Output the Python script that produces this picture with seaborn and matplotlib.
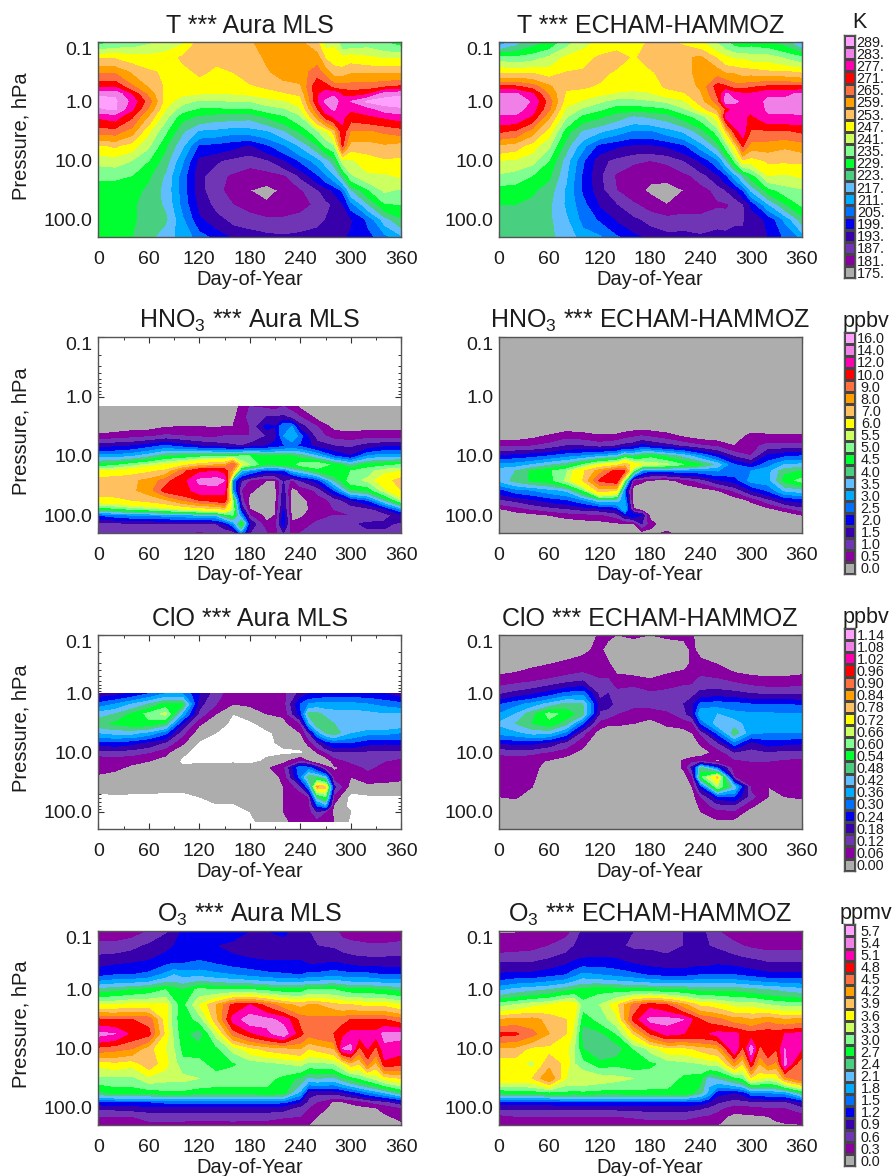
import numpy as np
import matplotlib
matplotlib.use("Agg")
import matplotlib.pyplot as plt
from matplotlib.colors import ListedColormap
from matplotlib.ticker import FixedLocator, LogLocator, MultipleLocator, NullFormatter
import seaborn as sns

band_colors = ["#ADADAD", "#8800A0", "#7035B5", "#3800AA", "#0000EE", "#0070FF", "#00AAFF",
               "#60BEFF", "#48D080", "#00FF30", "#80FF90", "#CCFF60", "#FFFF00", "#FFC060",
               "#FFA000", "#FF7040", "#FF0000", "#FF00B0", "#F080E8", "#FFA0FF"]

t_levels = [175, 181, 187, 193, 199, 205, 211, 217, 223, 229, 235, 241, 247, 253, 259, 265, 271, 277, 283, 289]
t_labels = ["175.", "181.", "187.", "193.", "199.", "205.", "211.", "217.", "223.", "229.", "235.", "241.",
            "247.", "253.", "259.", "265.", "271.", "277.", "283.", "289."]
hno3_levels = [0, .5, 1, 1.5, 2, 2.5, 3, 3.5, 4, 4.5, 5, 5.5, 6, 7, 8, 9, 10, 12, 14, 16]
hno3_labels = ["0.0", "0.5", "1.0", "1.5", "2.0", "2.5", "3.0", "3.5", "4.0", "4.5", "5.0", "5.5", "6.0",
               "7.0", "8.0", "9.0", "10.0", "12.0", "14.0", "16.0"]
clo_levels = [0, .06, .12, .18, .24, .30, .36, .42, .48, .54, .60, .66, .72, .78, .84, .90, .96, 1.02, 1.08, 1.14]
clo_labels = ["0.00", "0.06", "0.12", "0.18", "0.24", "0.30", "0.36", "0.42", "0.48", "0.54", "0.60", "0.66",
              "0.72", "0.78", "0.84", "0.90", "0.96", "1.02", "1.08", "1.14"]
o3_levels = [0, .3, .6, .9, 1.2, 1.5, 1.8, 2.1, 2.4, 2.7, 3.0, 3.3, 3.6, 3.9, 4.2, 4.5, 4.8, 5.1, 5.4, 5.7]
o3_labels = ["0.0", "0.3", "0.6", "0.9", "1.2", "1.5", "1.8", "2.1", "2.4", "2.7", "3.0", "3.3", "3.6", "3.9",
             "4.2", "4.5", "4.8", "5.1", "5.4", "5.7"]

# one row per day, one value per pressure level
t_days = [0, 20, 40, 60, 80, 100, 120, 140, 160, 180, 200, 220, 240, 260, 270, 280, 290, 300, 320, 340, 360]
t_press = [0.1, 0.18, 0.32, 0.56, 0.75, 1, 1.35, 1.8, 3.2, 5.6, 10, 18, 32, 56, 100, 200]
t_mls = [
    [232, 252, 264, 276, 288, 292, 288, 278, 268, 252, 243, 236, 232, 231, 230, 229],
    [236, 252, 264, 276, 288, 290, 290, 280, 268, 254, 244, 236, 232, 231, 230, 229],
    [237, 250, 258, 266, 276, 281, 278, 272, 262, 250, 241, 235, 232, 230, 230, 229],
    [240, 249, 254, 258, 263, 268, 264, 258, 248, 242, 235, 230, 227, 226, 226, 225],
    [243, 250, 252, 252, 251, 250, 247, 243, 236, 230, 226, 222, 221, 222, 224, 219],
    [246, 254, 251, 250, 248, 243, 238, 231, 224, 218, 212, 208, 208, 209, 212, 215],
    [255, 256, 254, 250, 247, 240, 234, 228, 216, 204, 197, 195, 195, 197, 200, 208],
    [255, 254, 252, 250, 247, 240, 234, 226, 215, 203, 194, 189, 189, 191, 195, 203],
    [254, 256, 253, 250, 247, 241, 234, 226, 213, 201, 191, 186, 184, 187, 191, 198],
    [258, 256, 256, 252, 248, 241, 234, 225, 214, 198, 189, 184, 181, 184, 190, 196],
    [262, 260, 258, 254, 250, 244, 238, 230, 216, 204, 192, 184, 179, 182, 188, 195],
    [264, 264, 262, 256, 252, 246, 240, 234, 222, 210, 198, 186, 182, 183, 188, 194],
    [260, 262, 262, 258, 254, 250, 246, 240, 230, 218, 206, 194, 186, 185, 189, 195],
    [254, 262, 268, 276, 276, 276, 270, 262, 240, 228, 214, 204, 192, 188, 191, 196],
    [244, 252, 262, 274, 280, 284, 280, 274, 246, 236, 220, 210, 196, 191, 193, 197],
    [246, 250, 256, 268, 282, 286, 284, 278, 256, 240, 226, 216, 200, 194, 195, 197],
    [236, 248, 256, 268, 276, 280, 279, 278, 276, 272, 244, 226, 206, 198, 197, 198],
    [236, 250, 258, 268, 274, 283, 278, 274, 264, 256, 246, 240, 222, 208, 198, 200],
    [238, 248, 258, 268, 276, 290, 280, 276, 264, 256, 250, 246, 234, 222, 206, 203],
    [235, 246, 258, 270, 286, 292, 286, 278, 266, 258, 252, 246, 242, 234, 220, 208],
    [232, 246, 258, 272, 288, 292, 288, 280, 268, 256, 252, 248, 240, 235, 228, 215],
]
t_echam = [
    [212, 238, 252, 272, 284, 288, 286, 282, 272, 258, 247, 240, 232, 229, 226, 224],
    [220, 236, 252, 272, 284, 288, 286, 282, 270, 256, 246, 238, 232, 229, 226, 224],
    [226, 238, 252, 268, 278, 282, 280, 276, 262, 250, 243, 235, 230, 227, 225, 224],
    [230, 242, 250, 260, 264, 268, 266, 260, 250, 242, 235, 230, 226, 224, 224, 224],
    [238, 248, 253, 254, 252, 250, 246, 242, 232, 226, 220, 218, 216, 216, 218, 221],
    [245, 250, 254, 254, 250, 246, 240, 233, 222, 213, 206, 204, 204, 207, 209, 214],
    [248, 254, 255, 252, 248, 242, 236, 230, 218, 203, 195, 194, 195, 198, 204, 212],
    [250, 256, 252, 250, 246, 238, 232, 226, 214, 200, 191, 186, 187, 193, 198, 206],
    [250, 252, 250, 248, 246, 238, 232, 222, 210, 198, 188, 183, 183, 188, 194, 201],
    [254, 256, 252, 250, 246, 240, 232, 224, 210, 198, 187, 182, 180, 184, 191, 197],
    [254, 258, 256, 254, 250, 242, 234, 226, 214, 200, 188, 183, 178, 181, 189, 195],
    [252, 258, 258, 256, 252, 246, 240, 232, 218, 204, 193, 185, 181, 183, 190, 195],
    [248, 260, 260, 260, 258, 256, 250, 238, 226, 214, 200, 190, 184, 184, 189, 194],
    [240, 252, 262, 274, 272, 268, 260, 250, 238, 226, 210, 198, 189, 186, 191, 195],
    [236, 248, 258, 272, 284, 286, 272, 280, 254, 238, 222, 204, 193, 186, 190, 195],
    [232, 246, 258, 268, 280, 284, 280, 282, 274, 252, 236, 214, 197, 188, 192, 195],
    [230, 246, 256, 268, 278, 282, 280, 278, 280, 272, 252, 224, 205, 192, 192, 195],
    [232, 244, 256, 270, 278, 280, 278, 276, 270, 262, 250, 232, 218, 200, 196, 196],
    [230, 244, 254, 272, 282, 284, 284, 282, 270, 262, 254, 247, 232, 216, 200, 199],
    [226, 240, 254, 272, 282, 284, 284, 282, 270, 260, 254, 246, 238, 228, 212, 206],
    [216, 236, 252, 272, 284, 286, 286, 282, 272, 262, 254, 248, 240, 236, 226, 212],
]

hno3_mls_days = [0, 20, 40, 60, 80, 100, 120, 140, 150, 160, 170, 180, 200, 210, 220, 230, 240, 260, 280, 300, 320, 340, 360]
hno3_mls_press = [1.47, 2.2, 3.2, 4.6, 6.8, 10, 14, 18, 26, 38, 56, 80, 100, 140, 200]
hno3_mls = [
    [.2, .2, .2, .6, 1.8, 3.2, 4.6, 6, 7.6, 7.6, 6.5, 4.5, 2.5, 1.2, 1.1],
    [.2, .2, .2, .7, 1.9, 3.2, 4.8, 6.2, 7.6, 7.7, 6.6, 4.7, 2.8, 1.3, 1.1],
    [.2, .2, .3, .8, 2, 3.4, 5.2, 6.5, 7.8, 7.8, 7, 5, 3, 1.4, 1.1],
    [.2, .2, .3, .9, 2.3, 3.8, 5.6, 6.8, 8.3, 8.5, 7.3, 5.2, 3, 1.4, 1.1],
    [.2, .2, .45, 1.1, 2.6, 4.4, 6, 7.2, 9.5, 10.5, 7.8, 5.5, 3.2, 1.4, 1.1],
    [.2, .2, .5, 1, 2.3, 4.5, 6.5, 9.5, 11, 11, 9, 5.8, 3.3, 1.5, 1],
    [.2, .3, .5, .9, 2, 4.7, 7.3, 11.5, 14.5, 13, 10, 6.2, 3.5, 1.5, .9],
    [.2, .3, .45, .9, 1.8, 4.8, 7.8, 12, 15, 13, 10.5, 6.5, 3.6, 1.5, 1],
    [.2, .3, .5, 1, 1.7, 4.7, 8, 11, 14, 12.5, 11, 7, 4.5, 2, 1],
    [.3, .4, .5, 1, 1.6, 4.7, 10, 8, 3, 3, 5, 5.5, 5, 3, 1],
    [.6, .7, .8, 1, 1.5, 5, 6, 3.5, 1.5, 1, 1.2, 2, 3, 5, 3],
    [1, 1.2, 1, 1, 1.7, 5, 5.5, 3, .9, .6, .3, .5, 1, 2, 1.5],
    [.9, 1.5, 2.2, 1.5, 2, 4.6, 4.5, 2.2, .5, .2, .2, .3, .3, .6, 1],
    [.8, 1.5, 2, 1.8, 2.2, 4.5, 4.6, 2.3, .5, .3, .3, .4, .5, .7, .8],
    [1, 1.6, 3, 3, 2.4, 4.5, 5, 2.2, 1.5, 1.7, 1.9, 2, 2.3, 2.3, 1.5],
    [.8, 1.3, 3, 3.5, 2.6, 4.5, 4.8, 3.4, .8, .3, .3, .3, .3, .6, .8],
    [.4, 1, 1.7, 2.7, 2.4, 4.3, 5.2, 3.8, 1.5, .6, .3, .3, .4, .7, 1],
    [.2, .3, 1, 1.2, 1.8, 3.5, 5.5, 4.6, 2.2, 1.1, .8, .7, .8, 1.1, 1.1],
    [.2, .2, .3, .8, 1.5, 2.5, 4.8, 5, 4, 2.5, 1.1, 1, 1, 1.3, 1.2],
    [.2, .2, .3, .7, 1.4, 2, 4, 5, 5.3, 4.4, 1.9, 1.1, 1, 1.4, 1.2],
    [.2, .2, .3, .8, 1.7, 3, 4.7, 5.3, 5.6, 4.6, 2.5, 1.3, 1.1, 1.6, 1.4],
    [.2, .2, .3, .8, 1.9, 3.3, 4.8, 5.8, 6.5, 5.8, 4, 1.8, 1.3, 1.6, 1.4],
    [.2, .2, .3, .8, 1.9, 3.3, 5, 6, 7.5, 7, 5.5, 3, 1.8, 1.4, 1.3],
]

hno3_echam_days = [0, 20, 40, 60, 80, 100, 120, 140, 150, 160, 170, 180, 200, 220, 240, 260, 280, 300, 320, 340, 360]
hno3_echam_press = [0.1, 2.2, 3.2, 4.6, 6.8, 10, 14, 18, 26, 38, 56, 80, 100, 140, 200]
hno3_echam = [
    [.1, .1, .1, .2, .9, 2, 3.1, 3.8, 3.6, 2.3, 1.4, .4, .1, .1, .1],
    [.1, .1, .1, .2, .9, 2.2, 3.2, 4, 4.2, 2.8, 1.6, .7, .2, .1, .1],
    [.1, .1, .1, .35, 1, 2.3, 3.5, 4.6, 4.6, 3, 1.9, 1, .3, .1, .1],
    [.1, .1, .1, .55, 1.2, 2.5, 3.9, 4.9, 4.8, 3.3, 2.2, 1.2, .5, .1, .1],
    [.1, .1, .2, .8, 1.5, 2.8, 4.2, 5.4, 5.6, 3.6, 2.4, 1.4, .7, .1, .1],
    [.1, .1, .15, .7, 1.5, 3, 5, 6.8, 7, 5, 2.9, 1.6, .8, .2, .1],
    [.1, .1, .1, .55, 1.3, 3.3, 6, 8.5, 10.2, 7.5, 3.8, 1.7, .9, .25, .1],
    [.1, .1, .1, .6, 1.5, 3.6, 6.5, 10.5, 11, 7, 3.8, 2, 1.2, .4, .1],
    [.1, .1, .1, .8, 1.7, 4.4, 7.5, 10, 5, 2.5, 3, 3.5, 2, .4, .1],
    [.1, .1, .2, .9, 1.8, 4.2, 6.5, 5, .8, .2, .2, .6, 2.5, .3, .1],
    [.1, .1, .2, 1, 2.2, 4.5, 6, 3, .6, .1, .1, .2, 2, 1.5, .2],
    [.1, .1, .2, .9, 2, 4.8, 5.8, 2.5, .4, .1, .1, .1, .3, .7, .3],
    [.1, .1, .1, .7, 1.7, 4.3, 5.6, 2.6, .3, .1, .1, .1, .1, .1, .6],
    [.1, .1, .1, .4, 1.4, 3.8, 5, 2.8, .7, .1, .1, .1, .1, .1, .1],
    [.1, .1, .1, .2, 1.1, 3, 4.6, 2.8, 1.2, .2, .1, .1, .1, .1, .1],
    [.1, .1, .1, .15, .9, 2.2, 3.8, 3, 1.9, .5, .1, .1, .1, .1, .1],
    [.1, .1, .1, .1, .5, 1.4, 2.5, 2.8, 2.2, 1.1, .1, .1, .1, .1, .1],
    [.1, .1, .1, .7, .8, 1, 2, 3, 3.2, 2, .6, .1, .1, .1, .1],
    [.1, .1, .1, .6, 1.2, 2.1, 2.8, 3.3, 3.3, 2.6, 1.3, .3, .1, .1, .1],
    [.1, .1, .1, .6, 1.2, 2.4, 3.5, 4.4, 4.7, 3.6, 2, .7, .1, .1, .1],
    [.1, .1, .1, .6, 1.2, 2.5, 3.6, 4.5, 5.2, 3.8, 2.2, 1.2, .5, .1, .1],
]

clo_mls_days = [0, 20, 40, 60, 80, 100, 120, 140, 160, 180, 200, 220, 240, 250, 260, 270, 280, 300, 320, 340, 360]
clo_mls_press = [1, 1.5, 2.2, 3.2, 4.6, 6.8, 10, 14, 18, 26, 38, 56, 80, 100, 147]
clo_mls = [
    [.2, .32, .45, .52, .42, .27, .14, .08, .08, .05, .03, -.02, -.03, -.03, -.03],
    [.22, .36, .48, .55, .44, .28, .15, .08, .07, .04, .03, -.01, -.03, -.03, -.03],
    [.25, .42, .55, .58, .44, .26, .14, .07, .05, .03, .02, -.01, -.03, -.03, -.03],
    [.3, .48, .62, .58, .4, .22, .12, .06, .04, .02, .02, -.01, -.03, -.03, -.03],
    [.36, .56, .68, .52, .32, .17, .07, .04, .02, .02, .01, -.01, -.03, -.03, -.03],
    [.36, .55, .4, .24, .14, .07, .01, -.01, .01, .02, .01, -.01, -.03, -.03, -.03],
    [.24, .2, .16, .07, .02, -.005, -.02, -.01, .02, .02, .02, 0, -.02, -.03, -.03],
    [.14, .12, .06, .02, 0, -.01, -.02, -.01, .02, .03, .03, .03, -.01, -.02, -.02],
    [.09, .06, 0, -.01, -.01, -.02, -.02, -.01, .03, .03, .02, .02, -.01, -.02, -.02],
    [.09, .07, .02, -.01, -.02, -.02, -.02, -.02, .03, .03, .03, .03, .02, 0, -.01],
    [.09, .08, .06, .02, -.01, -.01, -.01, .01, .05, .03, .03, .04, .03, .03, .02],
    [.1, .09, .07, .04, .02, .01, -.01, .04, .1, .07, .06, .06, .06, .06, .05],
    [.2, .3, .27, .12, .06, .02, -.01, .12, .35, .33, .15, .08, .07, .08, .08],
    [.24, .36, .5, .4, .17, .08, .01, .06, .32, .52, .35, .12, .09, .09, .08],
    [.24, .38, .5, .52, .38, .17, .06, -.01, .22, .5, .85, .5, .3, .18, .09],
    [.26, .38, .46, .52, .48, .26, .11, .01, .08, .42, .8, .6, .38, .12, .08],
    [.26, .38, .45, .48, .52, .3, .16, .08, .05, .08, .2, .1, .05, .04, .06],
    [.26, .38, .45, .46, .42, .3, .17, .13, .08, .06, .03, -.02, -.02, 0, -.01],
    [.26, .36, .44, .48, .38, .26, .16, .14, .13, .09, .04, -.01, -.02, -.02, -.02],
    [.24, .34, .42, .48, .38, .25, .15, .12, .1, .08, .04, -.01, -.02, -.02, -.02],
    [.2, .32, .42, .46, .36, .26, .15, .1, .08, .07, .04, -.01, -.02, -.02, -.02],
]

clo_echam_days = [0, 20, 40, 60, 80, 100, 120, 130, 140, 160, 180, 200, 220, 230, 240, 260, 280, 300, 320, 340, 360]
clo_echam_press = [0.1, 0.18, 0.32, 0.56, 1, 1.5, 2.2, 3.2, 4.6, 6.8, 10, 14, 18, 26, 38, 56, 80, 100, 147, 200]
clo_echam = [
    [0, .01, .02, .08, .17, .29, .36, .43, .38, .24, .13, .08, .08, .08, .07, .06, .02, 0, 0, 0],
    [0, .01, .03, .09, .2, .34, .42, .48, .4, .26, .14, .08, .08, .08, .07, .07, .02, 0, 0, 0],
    [0, .02, .05, .1, .23, .38, .52, .54, .44, .26, .13, .08, .08, .07, .06, .02, 0, 0, 0, 0],
    [0, .03, .06, .12, .27, .44, .62, .58, .44, .22, .11, .05, .03, .02, 0, 0, 0, 0, 0, 0],
    [0, .04, .07, .14, .32, .5, .58, .5, .34, .16, .08, .03, 0, 0, 0, 0, 0, 0, 0, 0],
    [0, .05, .08, .16, .34, .48, .5, .3, .14, .08, .04, 0, 0, 0, 0, 0, 0, 0, 0, 0],
    [.07, .07, .08, .12, .16, .2, .17, .09, .03, 0, 0, 0, 0, 0, 0, 0, 0, 0, 0, 0],
    [.07, .04, .07, .12, .18, .2, .15, .07, .02, 0, 0, 0, 0, 0, 0, 0, 0, 0, 0, 0],
    [.06, .03, .03, .08, .14, .16, .12, .07, .02, 0, 0, 0, 0, 0, 0, 0, 0, 0, 0, 0],
    [.07, .02, .03, .07, .17, .14, .08, .06, .02, 0, 0, 0, 0, 0, 0, 0, 0, 0, 0, 0],
    [.06, .02, .03, .06, .13, .14, .08, .04, .01, 0, 0, 0, 0, 0, 0, 0, 0, 0, 0, 0],
    [.07, .02, .03, .08, .14, .16, .1, .07, .03, .01, 0, 0, 0, 0, 0, 0, 0, 0, 0, 0],
    [.07, .04, .04, .1, .15, .18, .16, .08, .04, .02, .01, .07, .07, .03, 0, 0, 0, 0, 0, 0],
    [.07, .07, .07, .1, .16, .22, .22, .1, .06, .03, .02, .1, .2, .1, .06, .03, .01, 0, 0, 0],
    [0, .04, .08, .13, .2, .32, .42, .3, .13, .07, .03, .1, .5, .58, .25, .12, .08, .06, 0, 0],
    [0, .01, .06, .12, .21, .33, .42, .46, .32, .17, .08, .05, .3, .8, .66, .27, .15, .1, .05, 0],
    [0, 0, .02, .1, .2, .32, .38, .45, .52, .34, .17, .1, .07, .12, .45, .3, .16, .11, .04, 0],
    [0, 0, .01, .08, .18, .3, .37, .38, .37, .22, .15, .12, .1, .08, .1, .14, .07, .03, 0, 0],
    [0, 0, .01, .07, .17, .3, .37, .4, .36, .27, .17, .12, .1, .08, .06, .06, .02, 0, 0, 0],
    [0, 0, .02, .07, .17, .3, .36, .39, .36, .26, .15, .11, .1, .08, .07, .06, .02, 0, 0, 0],
    [0, 0, .02, .08, .17, .29, .36, .4, .36, .25, .15, .1, .09, .08, .07, .07, .02, 0, 0, 0],
]

o3_days = [0, 20, 40, 60, 80, 90, 100, 120, 140, 160, 180, 200, 220, 240, 250, 260, 280, 290, 300, 310, 320, 330, 340, 360]
o3_press = [0.1, 0.18, 0.32, 0.56, 1, 1.8, 3.2, 5.6, 10, 18, 32, 56, 80, 100, 140, 200]
o3_mls = [
    [.4, .7, 1.05, 1.4, 2.5, 3.6, 4.85, 5.5, 4.7, 3.7, 3.2, 2.6, 1.4, 1, .6, .4],
    [.4, .7, 1.1, 1.5, 2.6, 3.6, 4.8, 5.4, 4.6, 3.8, 3.2, 2.8, 1.5, 1, .6, .4],
    [.45, .8, 1.15, 1.5, 2.7, 3.7, 4.8, 5, 4.5, 3.7, 3.2, 2.8, 1.5, 1.05, .6, .45],
    [.6, .95, 1.2, 1.6, 2.8, 3.7, 4.7, 4.9, 4, 4.1, 3.5, 2.8, 1.5, 1.1, .7, .5],
    [.85, 1.1, 1.35, 1.9, 3, 3.7, 3.7, 3.8, 3.6, 3.7, 3.4, 2.9, 1.6, 1.1, .7, .5],
    [.95, 1.2, 1.4, 2.1, 2.8, 3.1, 3.1, 3.2, 3.3, 3.4, 3.4, 2.9, 1.6, 1.1, .7, .5],
    [1.25, 1.3, 1.4, 2, 2.7, 2.85, 2.8, 2.8, 2.9, 3.1, 3.4, 2.9, 1.6, 1.1, .7, .5],
    [1.3, 1.25, 1.5, 2, 3.1, 3.6, 3.1, 2.5, 2.85, 3.1, 3.3, 2.8, 1.6, 1.1, .7, .45],
    [1.35, 1.2, 1.4, 1.9, 3, 4.2, 4.1, 3.4, 2.9, 2.8, 3.2, 2.8, 1.6, 1.1, .7, .45],
    [1.35, 1.1, 1.3, 1.8, 3, 4.9, 5.2, 4.6, 3.4, 2.95, 3.2, 2.8, 1.6, 1.1, .75, .45],
    [1.2, 1, 1.25, 1.7, 3, 5.1, 5.6, 5, 3.8, 3.1, 3.2, 2.8, 1.6, 1.1, .7, .45],
    [1.2, 1, 1.2, 1.6, 2.9, 4.7, 5.5, 5.3, 4, 3.2, 3.1, 2.9, 1.6, 1.1, .7, .45],
    [1.25, 1.1, 1.2, 1.55, 2.8, 4.3, 5.3, 5.6, 4.1, 3.3, 2.9, 2.8, 1.6, 1.05, .65, .35],
    [1.1, 1, 1.2, 1.5, 2.8, 4.1, 4.7, 4.9, 4.2, 3.4, 2.6, 2, 1.2, .8, .6, .35],
    [.9, .95, 1.1, 1.6, 3, 4.2, 4.6, 4.6, 3.9, 3.2, 2.3, 1, .8, .6, .4, .3],
    [.8, .9, 1.1, 1.6, 3, 4.2, 4.6, 4.7, 4, 3.2, 2.4, .95, .6, .45, .3, .28],
    [.65, .85, 1.15, 1.7, 3, 4, 4.7, 4.8, 4.2, 3.3, 2.3, 1, .25, .2, .2, .2],
    [.5, .75, 1.1, 1.65, 2.9, 3.9, 4.7, 5, 5.4, 3.6, 2.6, 1.1, .3, .2, .2, .2],
    [.45, .7, 1.05, 1.6, 2.8, 3.9, 4.8, 5.2, 5.5, 4.1, 2.8, 1.3, .35, .2, .2, .2],
    [.42, .68, 1, 1.6, 2.8, 3.85, 4.8, 5.2, 4.7, 3.9, 3, 1.5, .45, .22, .2, .2],
    [.4, .65, 1, 1.6, 2.8, 3.8, 4.8, 5.2, 5.1, 4.6, 3.2, 1.7, .6, .25, .2, .2],
    [.4, .65, 1, 1.55, 2.75, 3.8, 4.8, 5.2, 4.7, 4.1, 3.4, 1.9, .7, .3, .22, .2],
    [.4, .65, 1, 1.5, 2.7, 3.8, 4.8, 5.5, 5.3, 5, 3.7, 2.1, .8, .4, .25, .2],
    [.4, .7, 1, 1.5, 2.6, 3.6, 4.6, 5.5, 5.2, 4.9, 3.9, 2.6, 1.1, .6, .4, .2],
]
o3_echam = [
    [.28, .4, .85, 1.25, 2, 3.2, 4.2, 4.9, 4.1, 3.7, 3.9, 2.7, 1.35, 1, .5, .35],
    [.28, .45, .85, 1.3, 2.2, 3.3, 4.3, 4.85, 4.1, 3.7, 3.8, 2.8, 1.4, 1, .6, .4],
    [.35, .5, .85, 1.3, 2.3, 3.5, 4.3, 4.6, 3.8, 3.5, 3.9, 2.8, 1.4, 1, .6, .4],
    [.4, .6, .95, 1.4, 2.4, 3.6, 4.1, 4.2, 3.8, 4.1, 4.5, 2.9, 1.4, 1, .6, .4],
    [.5, .75, 1.1, 1.5, 2.6, 3.9, 3.9, 3.9, 3.7, 3.8, 3.6, 2.9, 1.5, 1, .6, .4],
    [.65, .9, 1.2, 1.7, 2.7, 3.8, 3.6, 3.5, 3.3, 3.3, 3.6, 2.85, 1.5, 1, .6, .4],
    [.95, 1, 1.25, 1.9, 2.8, 3.1, 2.8, 2.5, 2.7, 3.1, 3.6, 2.9, 1.5, 1, .6, .4],
    [.95, .95, 1.3, 1.8, 2.9, 3.3, 3.1, 2.6, 2.4, 2.8, 3.5, 2.85, 1.5, 1, .6, .4],
    [1, .95, 1.25, 1.7, 2.85, 3.8, 3.5, 3, 2.5, 2.9, 3.4, 2.85, 1.5, 1, .6, .35],
    [.9, .85, 1.1, 1.6, 2.8, 4.6, 4.9, 3.9, 3, 2.8, 3.3, 2.9, 1.5, 1, .65, .35],
    [.9, .85, 1.05, 1.45, 2.8, 5, 5.5, 4.8, 3.4, 2.9, 3.2, 2.9, 1.5, 1.05, .7, .4],
    [.8, .8, 1, 1.4, 2.7, 4.8, 5.5, 5.2, 3.8, 3.1, 3.2, 2.9, 1.5, 1.05, .7, .4],
    [.9, .9, 1, 1.4, 2.7, 4.3, 5.4, 5.1, 3.8, 3.2, 2.9, 3, 1.5, 1.05, .7, .4],
    [.95, .95, 1.05, 1.5, 2.6, 3.8, 4.8, 5.1, 4, 3.3, 2.8, 2.5, 1.4, .95, .6, .35],
    [.85, .9, 1.05, 1.5, 2.6, 3.8, 4.7, 5.1, 4.1, 3.4, 2.2, 2, 1.2, .85, .55, .3],
    [.6, .85, 1.1, 1.5, 2.6, 3.7, 4.6, 5.2, 4.2, 3.4, 2.4, 1.3, .95, .7, .45, .3],
    [.4, .7, 1.05, 1.5, 2.6, 3.5, 4.3, 5.2, 5.4, 4.4, 2.8, 1.2, .75, .45, .2, .2],
    [.35, .6, 1, 1.45, 2.55, 3.5, 4.3, 5, 4.7, 3.9, 3, 1.3, .8, .5, .22, .2],
    [.28, .55, .95, 1.4, 2.5, 3.5, 4.2, 4.9, 5.6, 5, 3.8, 1.7, .85, .5, .25, .2],
    [.28, .52, .9, 1.35, 2.45, 3.4, 4.3, 5, 4.7, 4.2, 3.6, 1.75, .88, .55, .28, .22],
    [.28, .5, .85, 1.3, 2.4, 3.3, 4.4, 5, 5, 4.6, 3.5, 1.8, .9, .6, .3, .25],
    [.28, .5, .85, 1.3, 2.35, 3.25, 4.3, 5, 4.8, 4.4, 3.6, 1.85, .88, .6, .32, .28],
    [.28, .5, .85, 1.3, 2.3, 3.2, 4.2, 5.1, 5.4, 5.5, 4.3, 1.9, .85, .6, .35, .28],
    [.35, .5, .85, 1.3, 2.2, 3.2, 4.3, 5.2, 5.1, 4.5, 4.8, 2.6, 1.2, .8, .45, .28],
]

day_ticks = [0, 60, 120, 180, 240, 300, 360]
press_ticks = [0.1, 1, 10, 100]
press_labels = ["0.1", "1.0", "10.0", "100.0"]

sns.set_style("white")
plt.rcParams["font.family"] = ["Liberation Sans", "DejaVu Sans"]
plt.rcParams["mathtext.fontset"] = "custom"
plt.rcParams["mathtext.rm"] = "Liberation Sans"
plt.rcParams["mathtext.default"] = "rm"

W, H = 896, 1176
fig = plt.figure(figsize=(W / 100, H / 100), dpi=100)
txt = "#1c1c1c"
frame = "#555555"


def px_axes(x0, x1, y0, y1):
    return fig.add_axes([x0 / W, 1 - y1 / H, (x1 - x0) / W, (y1 - y0) / H])


def panel(x0, y0, y1, days, press, vals, levels, title, ylabel):
    ax = px_axes(x0, x0 + 303, y0, y1)
    z = np.array(vals, dtype=float).T
    ax.set_yscale("log")
    ax.contourf(days, press, z, levels=levels, colors=band_colors, extend="max")
    ax.set_xlim(0, 360)
    ax.set_ylim(200, 0.1)
    ax.xaxis.set_major_locator(FixedLocator(day_ticks))
    ax.xaxis.set_minor_locator(MultipleLocator(30))
    ax.yaxis.set_major_locator(FixedLocator(press_ticks))
    ax.yaxis.set_minor_locator(LogLocator(base=10, subs=range(2, 10), numticks=12))
    ax.yaxis.set_minor_formatter(NullFormatter())
    ax.set_yticklabels(press_labels)
    ax.tick_params(which="major", direction="in", length=4.5, width=0.8, color="#333333",
                   top=True, right=True, bottom=True, left=True, labelsize=14, labelcolor=txt)
    ax.tick_params(which="minor", direction="in", length=2.2, width=0.7, color="#333333",
                   top=True, right=True, bottom=True, left=True)
    ax.tick_params(axis="x", which="major", pad=10)
    ax.tick_params(axis="y", which="major", pad=4)
    ax.get_yticklabels()[0].set_va("top")
    ax.set_xlabel("Day-of-Year", fontsize=14.5, color=txt, labelpad=1)
    if ylabel:
        ax.set_ylabel("Pressure, hPa", fontsize=14.5, color=txt)
        ax.yaxis.set_label_coords(-0.225, 0.52)
    ax.set_title(title, fontsize=18, color=txt, pad=6.5)
    for s in ax.spines.values():
        s.set_visible(True)
        s.set_color(frame)
        s.set_linewidth(1.0)
    ax.grid(False)
    return ax


def scale_bar(y0, y1, labels, unit, unit_x, unit_y):
    cax = px_axes(843.7, 854.7, y0, y1)
    band_index = np.arange(len(band_colors))[::-1].reshape(-1, 1)
    sns.heatmap(band_index, cmap=ListedColormap(band_colors), cbar=False, linewidths=0.8, linecolor="#444444",
                xticklabels=False, yticklabels=labels[::-1], ax=cax)
    cax.yaxis.tick_right()
    cax.tick_params(axis="y", length=0, pad=11.5, labelsize=10.4, labelcolor=txt)
    for lab in cax.get_yticklabels():
        lab.set_rotation(0)
        lab.set_ha("center")
    for s in cax.spines.values():
        s.set_visible(True)
        s.set_color(frame)
        s.set_linewidth(1.0)
    fig.text(unit_x / W, 1 - unit_y / H, unit, fontsize=15.5, color=txt, ha="center", va="center")


LEFT, RIGHT = 98.3, 498.7

panel(LEFT, 42.3, 237.3, t_days, t_press, t_mls, t_levels, "T *** Aura MLS", True)
panel(RIGHT, 42.3, 237.3, t_days, t_press, t_echam, t_levels, "T *** ECHAM-HAMMOZ", False)
scale_bar(35, 278.3, t_labels, "K", 859, 23)

panel(LEFT, 337.3, 533, hno3_mls_days, hno3_mls_press, hno3_mls, hno3_levels, r"HNO$_3$ *** Aura MLS", True)
panel(RIGHT, 337.3, 533, hno3_echam_days, hno3_echam_press, hno3_echam, hno3_levels,
      r"HNO$_3$ *** ECHAM-HAMMOZ", False)
scale_bar(331.7, 574, hno3_labels, "ppbv", 866, 321)

panel(LEFT, 634.7, 829.3, clo_mls_days, clo_mls_press, clo_mls, clo_levels, "ClO *** Aura MLS", True)
panel(RIGHT, 634.7, 829.3, clo_echam_days, clo_echam_press, clo_echam, clo_levels, "ClO *** ECHAM-HAMMOZ", False)
scale_bar(628, 870.7, clo_labels, "ppbv", 866, 618)

panel(LEFT, 930.7, 1125.3, o3_days, o3_press, o3_mls, o3_levels, r"O$_3$ *** Aura MLS", True)
panel(RIGHT, 930.7, 1125.3, o3_days, o3_press, o3_echam, o3_levels, r"O$_3$ *** ECHAM-HAMMOZ", False)
scale_bar(924.3, 1166.3, o3_labels, "ppmv", 866, 913)

fig.savefig("out.png", dpi=100, facecolor="white")
